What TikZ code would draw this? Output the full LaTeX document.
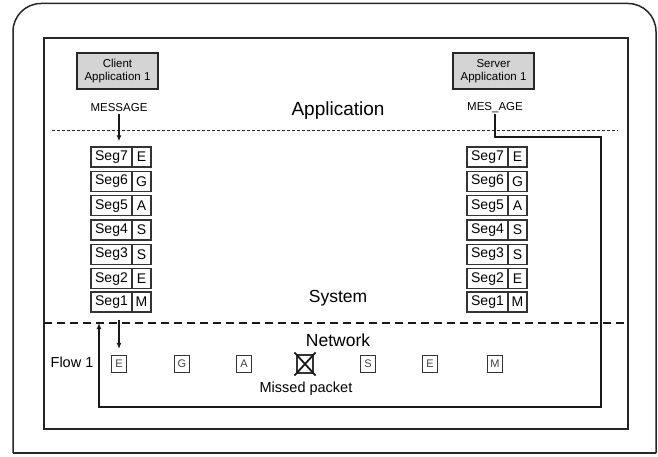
\documentclass[tikz,border=0pt]{standalone}
\usepackage{fontspec}
\setmainfont{Liberation Sans}
\usetikzlibrary{arrows.meta,calc}
\begin{document}
\begin{tikzpicture}[x=1pt,y=-1pt,
  frame/.style={draw=black!85,line width=1.5pt},
  appbox/.style={draw=black!85,fill=black!17,line width=1.8pt,minimum width=81pt,minimum height=36pt,inner sep=0pt,align=center,font=\fontsize{11.5}{13}\selectfont},
  lbl/.style={inner sep=0pt,font=\fontsize{11.5}{13}\selectfont},
  biglbl/.style={inner sep=0pt,font=\fontsize{19}{21}\selectfont},
  midlbl/.style={inner sep=0pt,font=\fontsize{17.5}{20}\selectfont},
  txtlbl/.style={inner sep=0pt,font=\fontsize{14.5}{16}\selectfont},
  segbox/.style={draw=black!80,line width=1.4pt,minimum width=41pt,minimum height=20pt,inner sep=0pt,font=\fontsize{14}{16}\selectfont},
  letbox/.style={draw=black!80,line width=1.4pt,minimum width=19pt,minimum height=20pt,inner sep=0pt,font=\fontsize{14}{16}\selectfont},
  pkt/.style={draw=black!80,line width=1.1pt,minimum width=15pt,minimum height=17pt,inner sep=0pt,font=\fontsize{11}{12}\selectfont,text=black!75},
  conn/.style={draw=black!90,line width=1.8pt},
  arr/.style={-{Latex[length=6pt,width=5pt]}}
]
\useasboundingbox (0,0) rectangle (658,457);
% outer frame
\draw[frame,rounded corners=28pt] (13,453) -- (13,3.5) -- (656,3.5) -- (656,453);
\draw[frame] (13,453) -- (656,453);
% inner frame
\draw[frame] (44,38) rectangle (628,429);
% layer separators
\draw[black!85,line width=1pt,dash pattern=on 3pt off 2pt] (52,131) -- (618,131);
\draw[black!90,line width=1.8pt,dash pattern=on 8pt off 5pt] (44,323) -- (628,323);
% applications
\node[appbox] (client) at (117.5,71) {Client\\Application 1};
\node[appbox] (server) at (493.5,71) {Server\\Application 1};
\node[lbl] (msg) at (119,108) {MESSAGE};
\node[lbl] (mes) at (495,108) {MES\_AGE};
\node[biglbl] (applbl) at (338,111) {Application};
\node[midlbl] (syslbl) at (338,298) {System};
\node[midlbl] (netlbl) at (338,340) {Network};
\node[txtlbl] (flow) at (72,362) {Flow 1};
% segments
\foreach \i/\l/\y in {7/E/157,6/G/181.3,5/A/205.7,4/S/230,3/S/254.3,2/E/278.7,1/M/302}{
  \node[segbox] (ls\i) at (111.5,\y) {Seg\i};
  \node[letbox] (ll\i) at (141.5,\y) {\l};
  \node[segbox] (rs\i) at (487.5,\y) {Seg\i};
  \node[letbox] (rl\i) at (517.5,\y) {\l};
}
% packets
\node[pkt] (p1) at (119,364) {E};
\node[pkt] (p2) at (182,364) {G};
\node[pkt] (p3) at (244,364) {A};
\node[pkt,minimum width=16pt,minimum height=18pt] (px) at (305,364) {};
\node[pkt] (p5) at (368,364) {S};
\node[pkt] (p6) at (430,364) {E};
\node[pkt] (p7) at (495,364) {M};
\draw[black!90,line width=1.8pt] ($(px.north west)+(-2,-2)$) -- ($(px.south east)+(2,2)$);
\draw[black!90,line width=1.8pt] ($(px.north east)+(2,-2)$) -- ($(px.south west)+(-2,2)$);
\node[txtlbl] (missed) at (306,389) {Missed packet};
% connectors
\draw[conn,arr,shorten <=2pt,shorten >=5pt] (msg.south) -- (msg.south |- ls7.north);
\draw[conn,arr,shorten <=7pt,shorten >=6pt] (p1 |- ls1.south) -- (p1.north);
\coordinate (k1) at (601,137);
\coordinate (k2) at (601,407);
\coordinate (k3) at (99,407);
\coordinate (ret) at (99,323);
\draw[conn,arr,shorten <=1pt] (mes.south) |- (k1) -- (k2) -- (k3) -- (ret);
\end{tikzpicture}
\end{document}
